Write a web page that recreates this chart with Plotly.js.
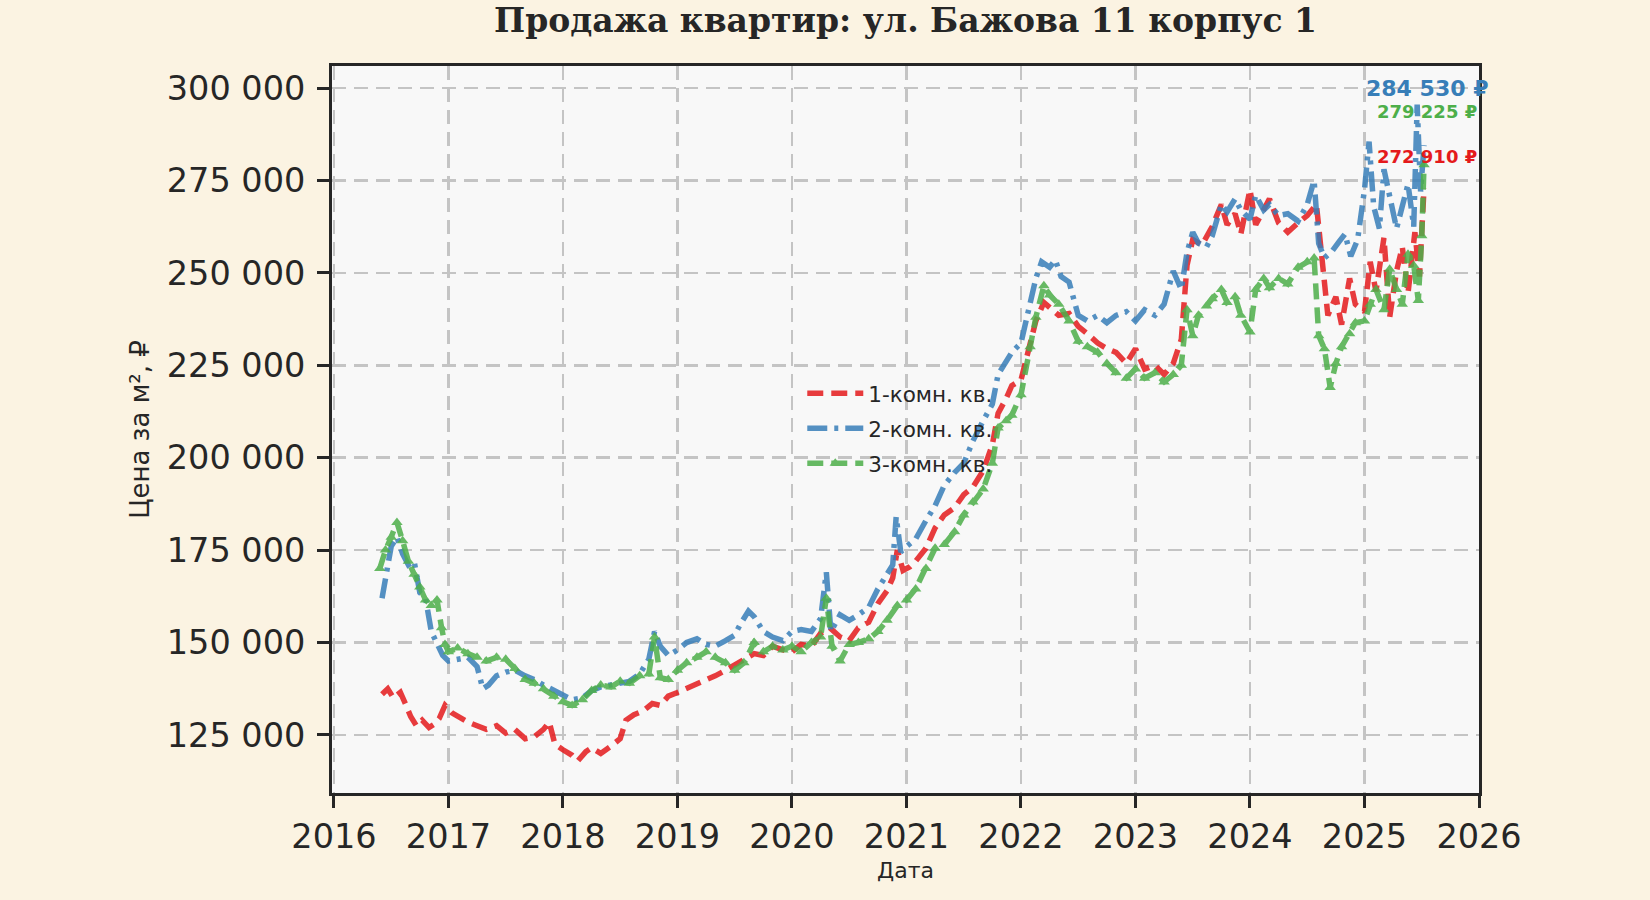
<!DOCTYPE html>
<html>
<head>
<meta charset="utf-8">
<script src="https://cdn.plot.ly/plotly-3.0.1.min.js"></script>
<style>
  html, body { margin: 0; padding: 0; background: #fbf3e2; }
  #chart { width: 1650px; height: 900px; }
</style>
</head>
<body>
<div id="chart"></div>
<script>
// Price per m2 by flat type (decimal year, rubles)
const oneRoomT = [2016.42, 2016.47, 2016.52, 2016.58, 2016.63, 2016.67, 2016.72, 2016.77, 2016.83, 2016.88, 2016.92, 2016.97,
  2017.03, 2017.08, 2017.17, 2017.25, 2017.33, 2017.42, 2017.5, 2017.58, 2017.67, 2017.75, 2017.83, 2017.88, 2017.93,
  2018.0, 2018.08, 2018.13, 2018.2, 2018.25, 2018.33, 2018.42, 2018.5, 2018.55, 2018.62, 2018.7, 2018.78, 2018.85, 2018.92,
  2019.0, 2019.08, 2019.17, 2019.25, 2019.33, 2019.42, 2019.5, 2019.58, 2019.67, 2019.75, 2019.83, 2019.92,
  2020.0, 2020.08, 2020.17, 2020.25, 2020.33, 2020.42, 2020.5, 2020.58, 2020.67, 2020.75, 2020.83, 2020.88, 2020.92, 2020.97,
  2021.03, 2021.08, 2021.17, 2021.25, 2021.33, 2021.42, 2021.5, 2021.58, 2021.67, 2021.75, 2021.8, 2021.87, 2021.92,
  2022.0, 2022.08, 2022.13, 2022.2, 2022.25, 2022.33, 2022.42, 2022.5, 2022.58, 2022.67, 2022.75, 2022.83, 2022.92,
  2023.0, 2023.08, 2023.17, 2023.25, 2023.33, 2023.4, 2023.45, 2023.5, 2023.58, 2023.67, 2023.75, 2023.8, 2023.87, 2023.92,
  2024.0, 2024.05, 2024.12, 2024.17, 2024.25, 2024.33, 2024.42, 2024.5, 2024.58, 2024.63, 2024.68, 2024.75, 2024.8, 2024.87, 2024.92,
  2025.0, 2025.05, 2025.1, 2025.17, 2025.22, 2025.28, 2025.33, 2025.38, 2025.44, 2025.48, 2025.52];
const oneRoomV = [136000, 137500, 135000, 136500, 133000, 130000, 127500, 129000, 127000, 128000, 129500, 133000,
  131000, 130000, 128500, 127500, 126500, 127500, 125500, 126500, 124000, 124500, 126500, 128500, 122500,
  121000, 119500, 118000, 120500, 121500, 120000, 122000, 124000, 129000, 130500, 131500, 133500, 133000, 135500,
  136500, 137500, 139000, 140000, 141000, 142500, 144000, 145500, 147000, 146500, 149000, 148000,
  147500, 149500, 149000, 152500, 154000, 151500, 150500, 154000, 155500, 160500, 164000, 167500, 175000, 169500,
  170500, 172000, 175500, 181000, 184500, 186500, 190000, 192000, 196500, 203500, 212000, 216000, 219500,
  221000, 230000, 237000, 242000, 240500, 238500, 239000, 235500, 233500, 231000, 229500, 228500, 225500,
  229500, 224000, 225000, 222500, 225500, 232000, 252000, 259000, 257500, 262500, 268500, 263000, 266000, 260500,
  272500, 263000, 267500, 270000, 263500, 261000, 263500, 265500, 268500, 253000, 238500, 243500, 236000, 248500, 241500,
  239500, 253000, 245000, 259500, 238000, 250500, 257000, 244500, 261000, 249000, 272910];

const twoRoomT = [2016.42, 2016.46, 2016.5, 2016.55, 2016.6, 2016.65, 2016.7, 2016.75, 2016.8, 2016.85, 2016.9, 2016.95,
  2017.0, 2017.08, 2017.17, 2017.25, 2017.3, 2017.35, 2017.42, 2017.5, 2017.58, 2017.67, 2017.75, 2017.83, 2017.92,
  2018.0, 2018.08, 2018.17, 2018.25, 2018.33, 2018.42, 2018.5, 2018.58, 2018.67, 2018.75, 2018.8, 2018.85, 2018.92,
  2019.0, 2019.08, 2019.17, 2019.25, 2019.33, 2019.42, 2019.5, 2019.55, 2019.62, 2019.67, 2019.75, 2019.83, 2019.92,
  2020.0, 2020.08, 2020.17, 2020.25, 2020.3, 2020.34, 2020.42, 2020.5, 2020.58, 2020.67, 2020.75, 2020.83, 2020.88, 2020.91, 2020.95,
  2021.0, 2021.08, 2021.17, 2021.25, 2021.33, 2021.42, 2021.5, 2021.58, 2021.67, 2021.75, 2021.8, 2021.87, 2021.92,
  2022.0, 2022.08, 2022.13, 2022.18, 2022.25, 2022.3, 2022.35, 2022.42, 2022.5, 2022.58, 2022.67, 2022.75, 2022.83, 2022.92,
  2023.0, 2023.08, 2023.17, 2023.25, 2023.33, 2023.4, 2023.45, 2023.5, 2023.55, 2023.62, 2023.67, 2023.75, 2023.8, 2023.87, 2023.92,
  2024.0, 2024.05, 2024.12, 2024.17, 2024.25, 2024.33, 2024.42, 2024.5, 2024.56, 2024.6, 2024.65, 2024.72, 2024.78, 2024.83, 2024.88, 2024.94,
  2025.0, 2025.04, 2025.08, 2025.13, 2025.17, 2025.22, 2025.28, 2025.33, 2025.38, 2025.43, 2025.46, 2025.49, 2025.52];
const twoRoomV = [162000, 169000, 176000, 178500, 174000, 171000, 172000, 163500, 162000, 153000, 150000, 146500,
  145000, 145500, 146000, 143500, 137500, 138500, 141000, 142000, 142500, 141000, 140000, 138500, 137000,
  135500, 134500, 135000, 137000, 138000, 138500, 139000, 139500, 141500, 145500, 153000, 149000, 146500,
  148000, 150000, 151000, 149500, 149000, 150500, 152000, 155000, 158500, 157000, 153000, 151500, 150500,
  153000, 153500, 153000, 156500, 169000, 153000, 157500, 156000, 157500, 159500, 164500, 168500, 171000, 184000, 174500,
  176000, 178000, 183000, 187000, 192500, 196000, 198500, 204500, 210000, 214500, 222500, 226000, 228500,
  231000, 241500, 248500, 253000, 251500, 253500, 249000, 247500, 238500, 237000, 238500, 236500, 238500, 239500,
  237000, 240000, 238500, 241500, 250500, 245500, 255500, 261000, 258000, 257000, 260000, 268500, 266500, 270000, 267000,
  264500, 271000, 267000, 268500, 265500, 266000, 264000, 268500, 275000, 258000, 254000, 256000, 258500, 260500, 254500, 259000,
  272500, 285500, 268000, 262000, 278000, 271000, 262000, 268000, 274000, 262500, 295500, 272000, 284530];

const threeRoomT = [2016.4, 2016.45, 2016.5, 2016.55, 2016.6, 2016.65, 2016.7, 2016.75, 2016.8, 2016.85, 2016.9, 2016.94, 2016.97,
  2017.0, 2017.08, 2017.17, 2017.25, 2017.33, 2017.42, 2017.5, 2017.58, 2017.67, 2017.75, 2017.83, 2017.92,
  2018.0, 2018.08, 2018.17, 2018.25, 2018.33, 2018.42, 2018.5, 2018.58, 2018.67, 2018.75, 2018.8, 2018.85, 2018.92,
  2019.0, 2019.08, 2019.17, 2019.25, 2019.33, 2019.42, 2019.5, 2019.58, 2019.67, 2019.75, 2019.83, 2019.92,
  2020.0, 2020.08, 2020.17, 2020.25, 2020.3, 2020.35, 2020.42, 2020.5, 2020.58, 2020.67, 2020.75, 2020.83, 2020.92,
  2021.0, 2021.08, 2021.17, 2021.25, 2021.33, 2021.42, 2021.5, 2021.58, 2021.67, 2021.75, 2021.8, 2021.87, 2021.92,
  2022.0, 2022.08, 2022.13, 2022.2, 2022.25, 2022.33, 2022.42, 2022.5, 2022.58, 2022.67, 2022.75, 2022.83, 2022.92,
  2023.0, 2023.08, 2023.17, 2023.25, 2023.33, 2023.4, 2023.45, 2023.5, 2023.55, 2023.62, 2023.67, 2023.75, 2023.8, 2023.87, 2023.92,
  2024.0, 2024.05, 2024.12, 2024.17, 2024.25, 2024.33, 2024.42, 2024.5, 2024.56, 2024.6, 2024.65, 2024.7, 2024.75, 2024.8, 2024.87, 2024.92,
  2025.0, 2025.05, 2025.1, 2025.17, 2025.22, 2025.28, 2025.33, 2025.38, 2025.43, 2025.47, 2025.5, 2025.52];
const threeRoomV = [170000, 175000, 178500, 182500, 177500, 172000, 168500, 165000, 161500, 160000, 161500, 154000, 149500,
  147500, 148500, 147000, 146000, 145000, 146000, 145500, 143000, 140000, 139000, 137500, 135500,
  134000, 133000, 134500, 137000, 138500, 138000, 139500, 139000, 141000, 141500, 151500, 140500, 140000,
  142500, 144500, 146000, 147500, 146000, 144500, 142500, 144500, 150000, 147500, 149000, 148000,
  149000, 147500, 150000, 151500, 162000, 149000, 145000, 149500, 150000, 151000, 153000, 156000, 160000,
  161500, 164500, 170000, 175500, 176500, 180000, 184500, 188000, 191500, 198500, 208000, 210000, 211500,
  217000, 230000, 238000, 246500, 244000, 241500, 237000, 231500, 230000, 228500, 225500, 223000, 221500,
  224000, 221500, 223000, 220500, 222500, 225000, 240000, 233000, 238500, 241000, 243000, 245500, 242000, 243500, 238500,
  234000, 245500, 248500, 246000, 248500, 247000, 251500, 253000, 254000, 233000, 229500, 219000, 225500, 230000, 233500, 236500,
  237000, 241500, 245500, 240000, 251000, 245500, 241500, 255000, 252000, 242500, 260000, 279225];

const seriesNames = ['1-комн. кв.', '2-комн. кв.', '3-комн. кв.'];
const lastLabels = ['272 910 ₽', '284 530 ₽', '279 225 ₽'];
const yTicks = [125000, 150000, 175000, 200000, 225000, 250000, 275000, 300000];
const xTicks = [2016, 2017, 2018, 2019, 2020, 2021, 2022, 2023, 2024, 2025, 2026];

const INK = '#262626';
const colors = ['#e41a1c', '#377eb8', '#4daf4a'];

const traces = [
  {
    x: oneRoomT, y: oneRoomV, name: seriesNames[0], legendgroup: 'g1', type: 'scatter', mode: 'lines',
    opacity: 0.85, line: { color: colors[0], width: 5.5, dash: '16px,8px' }
  },
  {
    x: twoRoomT, y: twoRoomV, name: seriesNames[1], legendgroup: 'g2', type: 'scatter', mode: 'lines',
    opacity: 0.85, line: { color: colors[1], width: 5.5, dash: '20px,7px,4px,7px' }
  },
  {
    x: threeRoomT, y: threeRoomV, name: seriesNames[2], legendgroup: 'g3', type: 'scatter', mode: 'lines+markers',
    opacity: 0.85, line: { color: colors[2], width: 5.5, dash: '16px,8px' },
    marker: { symbol: 'triangle-up', size: 10, color: colors[2] }
  }
];

// value labels next to the last point of every series
const ends = [[oneRoomT, oneRoomV, 32, 18], [twoRoomT, twoRoomV, 57, 22], [threeRoomT, threeRoomV, 53, 18]];
const annotations = ends.map(([t, v, shift, size], i) => ({
  x: t[t.length - 1], y: v[v.length - 1], xref: 'x', yref: 'y',
  text: lastLabels[i], showarrow: false, xanchor: 'center', yanchor: 'middle',
  xshift: 3, yshift: shift,
  font: { family: 'DejaVu Sans', size: size, weight: 'bold', color: colors[i] }
}));

const axisCommon = {
  showline: true, mirror: true, linecolor: INK, linewidth: 3,
  ticks: 'outside', ticklen: 12, tickwidth: 3, tickcolor: INK,
  showgrid: true, gridcolor: '#c4c4c4', gridwidth: 2.5, griddash: '14px,8px',
  zeroline: false,
  tickfont: { family: 'DejaVu Sans', size: 33.5, color: INK }
};

const layout = {
  width: 1650, height: 900,
  paper_bgcolor: '#fbf3e2', plot_bgcolor: '#f8f8f8',
  margin: { l: 332, r: 171, t: 66, b: 107 },
  separators: ', ',
  title: {
    text: 'Продажа квартир: ул. Бажова 11 корпус 1',
    font: { family: 'DejaVu Serif', size: 33, weight: 'bold', color: INK },
    x: 0.5, xref: 'paper', y: 0.977, yref: 'container', yanchor: 'middle'
  },
  xaxis: Object.assign({}, axisCommon, {
    range: [2015.983, 2026.0], tickvals: xTicks, tickformat: 'd', ticklabelstandoff: 0,
    title: { text: 'Дата', standoff: 8, font: { family: 'DejaVu Sans', size: 22, color: INK } }
  }),
  yaxis: Object.assign({}, axisCommon, {
    range: [109300, 305950], tickvals: yTicks, tickformat: ',d', ticklabelstandoff: 5,
    title: { text: 'Цена за м², ₽', standoff: 10, font: { family: 'DejaVu Sans', size: 26, color: INK } }
  }),
  showlegend: true,
  legend: {
    x: 0.41, y: 0.578, xanchor: 'left', yanchor: 'top',
    bgcolor: 'rgba(0,0,0,0)', borderwidth: 0,
    font: { family: 'DejaVu Sans', size: 21.5, color: INK },
    itemwidth: 56, tracegroupgap: 4
  },
  annotations: annotations
};

Plotly.newPlot('chart', traces, layout, { displayModeBar: false, staticPlot: true });
</script>
</body>
</html>
